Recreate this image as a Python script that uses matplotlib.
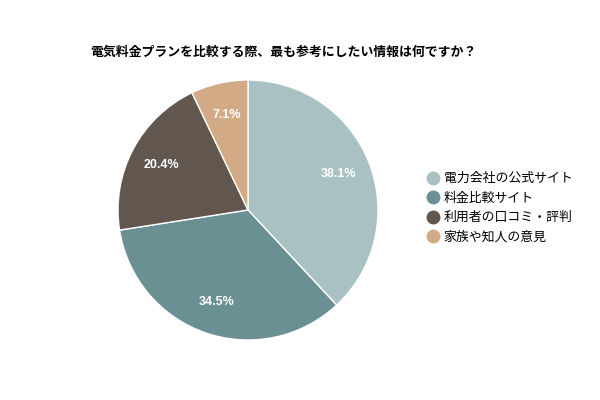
import matplotlib
matplotlib.use("Agg")
import matplotlib.pyplot as plt
from matplotlib.lines import Line2D

plt.rcParams['font.family'] = ['Noto Sans CJK JP', 'DejaVu Sans']

title = "電気料金プランを比較する際、最も参考にしたい情報は何ですか？"
categories = ["電力会社の公式サイト", "料金比較サイト", "利用者の口コミ・評判", "家族や知人の意見"]
values = [38.1, 34.5, 20.4, 7.1]
colors = ["#a9c1c3", "#6b9093", "#62574e", "#d2aa85"]

fig = plt.figure(figsize=(6, 4), dpi=100)
ax = fig.add_axes([(248 - 130) / 600, (400 - 210 - 130) / 400, 260 / 600, 260 / 400])
wedges, texts, autotexts = ax.pie(values, colors=colors, startangle=90, counterclock=False,
                                  autopct=lambda p: f"{p:.1f}%", pctdistance=0.75,
                                  wedgeprops=dict(edgecolor="white", linewidth=1))
for t in autotexts:
    t.set_color("white")
    t.set_fontsize(9)
    t.set_fontweight("bold")
    t.set_family(['Liberation Sans', 'DejaVu Sans'])
ax.set_xlim(-1, 1)
ax.set_ylim(-1, 1)
ax.set_aspect("equal")

fig.text(90 / 600, 1 - 52 / 400, title, fontsize=9.3, fontweight="bold", va="center", ha="left")

handles = [Line2D([0], [0], marker="o", linestyle="", markersize=9, markerfacecolor=c,
                  markeredgecolor=c) for c in colors]
fig.legend(handles, categories, loc="center left", bbox_to_anchor=(414 / 600, 1 - 208 / 400),
           frameon=False, fontsize=9.3, handletextpad=0.2, labelspacing=0.5, handlelength=1.2)

fig.savefig("out.png", dpi=100)
